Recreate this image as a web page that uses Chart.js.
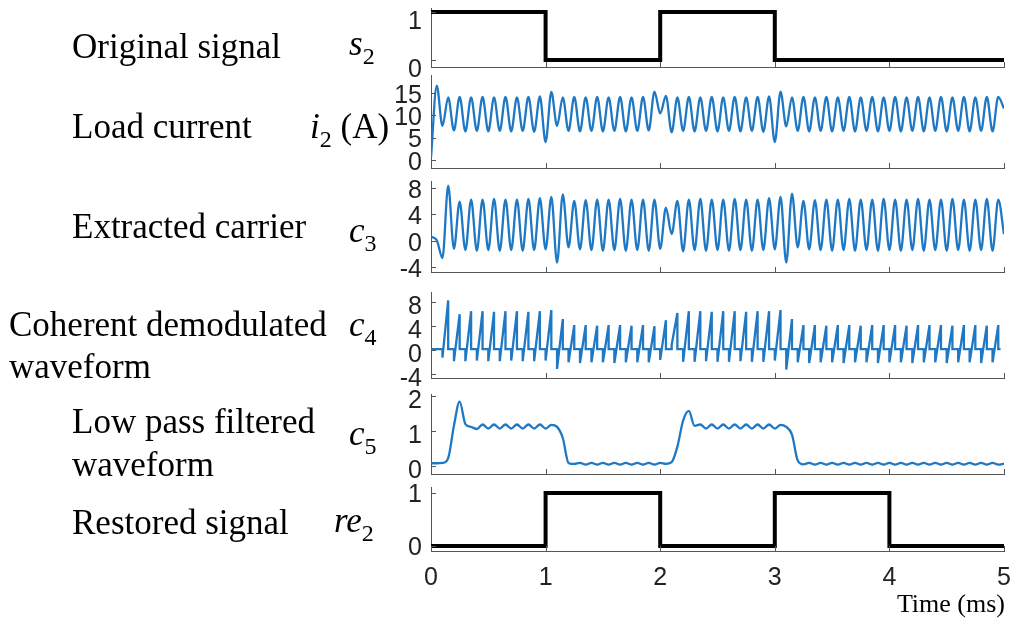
<!DOCTYPE html>
<html><head><meta charset="utf-8">
<script src="https://cdn.jsdelivr.net/npm/chart.js@4.4.1/dist/chart.umd.min.js"></script>
<style>
html,body{margin:0;padding:0;background:#fff;}
#wrap{position:relative;width:1016px;height:622px;overflow:hidden;background:#fff;}
canvas{position:absolute;left:0;}
.lab{position:absolute;font-family:'Liberation Serif','Times New Roman',serif;font-size:35px;line-height:35px;color:#000;white-space:nowrap;}
.v{font-style:italic;}
.sub{font-style:normal;font-size:24px;position:relative;top:9px;}
</style></head><body><div id="wrap">
<canvas id="p1"></canvas><canvas id="p2"></canvas><canvas id="p3"></canvas>
<canvas id="p4"></canvas><canvas id="p5"></canvas><canvas id="p6"></canvas>
<div class="lab" style="left:72px;top:29px">Original signal</div>
<div class="lab" style="left:72px;top:109px">Load current</div>
<div class="lab" style="left:72px;top:209px">Extracted carrier</div>
<div class="lab" style="left:9px;top:307px">Coherent demodulated</div>
<div class="lab" style="left:9px;top:349px">waveform</div>
<div class="lab" style="left:72px;top:404px">Low pass filtered</div>
<div class="lab" style="left:72px;top:447px">waveform</div>
<div class="lab" style="left:72px;top:505px">Restored signal</div>
<div class="lab" style="left:349px;top:26px"><span class="v">s</span><span class="sub">2</span></div>
<div class="lab" style="left:310px;top:109px"><span class="v">i</span><span class="sub">2</span> (A)</div>
<div class="lab" style="left:349px;top:213px"><span class="v">c</span><span class="sub">3</span></div>
<div class="lab" style="left:349px;top:307px"><span class="v">c</span><span class="sub">4</span></div>
<div class="lab" style="left:349px;top:416px"><span class="v">c</span><span class="sub">5</span></div>
<div class="lab" style="left:334px;top:503px"><span class="v">re</span><span class="sub">2</span></div>
<div class="lab" style="right:11px;top:591px;font-size:26px;line-height:26px">Time (ms)</div>
</div>
<script>
// ---------- DATA ----------
const xTicks = [0, 1, 2, 3, 4, 5];

// original signal s2 (step corners)
const s2Times  = [0, 1, 1, 2, 2, 3, 3, 5];
const s2Values = [1, 1, 0, 0, 1, 1, 0, 0];
const s2Ticks  = [0, 1];

// restored signal re2
const re2Times  = [0, 1, 1, 2, 2, 3, 3, 4, 4, 5];
const re2Values = [0, 0, 1, 1, 0, 0, 1, 1, 0, 0];
const re2Ticks  = [0, 1];

// sample times (ms) for the carrier-rate waveforms (peaks / troughs)
const halfTimes = [0,0.05,0.1,0.15,0.2,0.25,0.3,0.35,0.4,0.45,
0.5,0.55,0.6,0.65,0.7,0.75,0.8,0.85,0.9,0.95,
1,1.05,1.1,1.15,1.2,1.25,1.3,1.35,1.4,1.45,
1.5,1.55,1.6,1.65,1.7,1.75,1.8,1.85,1.9,1.95,
2,2.05,2.1,2.15,2.2,2.25,2.3,2.35,2.4,2.45,
2.5,2.55,2.6,2.65,2.7,2.75,2.8,2.85,2.9,2.95,
3,3.05,3.1,3.15,3.2,3.25,3.3,3.35,3.4,3.45,
3.5,3.55,3.6,3.65,3.7,3.75,3.8,3.85,3.9,3.95,
4,4.05,4.1,4.15,4.2,4.25,4.3,4.35,4.4,4.45,
4.5,4.55,4.6,4.65,4.7,4.75,4.8,4.85,4.9,4.95,5];

// load current i2 (A)
const i2Values = [0.5,16.6,7.6,14.0,6.6,14.1,6.4,14.0,6.5,14.1,
6.4,14.0,6.5,14.1,6.4,14.0,6.5,14.1,6.3,14.2,
4.0,15.2,7.6,14.0,6.5,14.1,6.4,14.0,6.5,14.1,
6.4,14.0,6.5,14.1,6.4,14.0,6.5,14.1,6.6,15.3,
10.4,14.3,6.2,14.0,6.5,14.1,6.4,14.0,6.5,14.1,
6.4,14.0,6.5,14.1,6.4,14.0,6.5,14.1,6.3,14.2,
4.0,15.3,7.5,14.0,6.5,14.1,6.4,14.0,6.5,14.1,
6.4,14.0,6.5,14.1,6.4,14.0,6.5,14.1,6.4,14.0,
6.5,14.1,6.4,14.0,6.5,14.1,6.4,14.0,6.5,14.1,
6.4,14.0,6.5,14.1,6.4,14.0,6.5,14.1,6.4,14.1,11.5];
const i2Ticks = [0, 5, 10, 15];

// extracted carrier c3
const c3Values = [0.6,0.1,-2.6,8.3,-1.2,5.9,-1.4,6.2,-1.5,6.2,
-1.4,6.3,-1.5,6.2,-1.4,6.2,-1.5,6.3,-1.4,6.4,
-1.3,6.6,-3.3,7.0,-1.0,6.0,-1.3,6.1,-1.4,6.2,
-1.5,6.2,-1.4,6.3,-1.5,6.2,-1.4,6.2,-1.5,6.2,
-1.2,5.0,1.0,6.0,-1.6,6.2,-1.4,6.3,-1.5,6.2,
-1.4,6.2,-1.5,6.3,-1.4,6.2,-1.5,6.2,-1.4,6.4,
-1.3,6.6,-3.3,7.1,-1.0,6.0,-1.3,6.1,-1.4,6.2,
-1.5,6.2,-1.4,6.3,-1.5,6.2,-1.4,6.2,-1.5,6.3,
-1.4,6.2,-1.5,6.2,-1.4,6.3,-1.5,6.2,-1.4,6.2,
-1.5,6.3,-1.4,6.2,-1.5,6.2,-1.4,6.3,-1.5,6.2,1.0];
const c3Ticks = [-4, 0, 4, 8];

// coherent demodulated waveform c4: window start (dip) and window end (peak)
const c4Base = 0.2;
const c4StartTimes = [0, 0.03];
const c4TroughTimes = [0.1,0.2,0.3,0.4,0.5,0.6,0.7,0.8,0.9,1.0,
1.1,1.2,1.3,1.4,1.5,1.6,1.7,1.8,1.9,2.0,
2.1,2.2,2.3,2.4,2.5,2.6,2.7,2.8,2.9,3.0,
3.1,3.2,3.3,3.4,3.5,3.6,3.7,3.8,3.9,4.0,
4.1,4.2,4.3,4.4,4.5,4.6,4.7,4.8,4.9];
const c4PeakTimes = [0.15,0.25,0.35,0.45,0.55,0.65,0.75,0.85,0.95,1.05,
1.15,1.25,1.35,1.45,1.55,1.65,1.75,1.85,1.95,2.05,
2.15,2.25,2.35,2.45,2.55,2.65,2.75,2.85,2.95,3.05,
3.15,3.25,3.35,3.45,3.55,3.65,3.75,3.85,3.95,4.05,
4.15,4.25,4.35,4.45,4.55,4.65,4.75,4.85,4.95];
const c4Dips = [-1.2,-1.8,-1.8,-1.7,-1.8,-1.8,-1.7,-1.8,-1.8,-1.7,
-3.1,-2.0,-2.1,-2.0,-2.0,-2.1,-2.0,-2.0,-2.0,-1.6,
0.9,-1.9,-1.9,-1.8,-1.9,-1.9,-1.8,-1.9,-1.9,-1.7,
-3.2,-2.0,-2.1,-2.0,-2.0,-2.1,-2.0,-2.0,-2.1,-2.0,
-2.0,-2.1,-2.0,-2.0,-2.1,-2.0,-2.0,-2.1,-2.0];
const c4Peaks = [8.3,6.0,6.5,6.5,6.4,6.5,6.5,6.4,6.5,6.7,
5.2,4.2,4.2,4.1,4.2,4.2,4.1,4.2,4.0,5.0,
6.2,6.5,6.5,6.4,6.5,6.5,6.4,6.5,6.5,6.7,
5.2,4.2,4.2,4.1,4.2,4.2,4.1,4.2,4.2,4.2,
4.1,4.2,4.2,4.2,4.1,4.2,4.2,4.1,4.2];
const c4EndTime = 4.97;
const c4Ticks = [-4, 0, 4, 8];

// low pass filtered waveform c5
const c5Values = [0.07,0.07,0.08,0.22,1.15,1.85,1.2,1.12,1.06,1.19,
1.07,1.19,1.07,1.19,1.07,1.19,1.07,1.19,1.07,1.19,
1.07,1.18,1.12,0.8,0.08,0.05,0.08,0.03,0.08,0.03,
0.08,0.03,0.08,0.03,0.08,0.03,0.08,0.03,0.08,0.03,
0.08,0.05,0.1,0.55,1.3,1.58,1.15,1.19,1.07,1.19,
1.07,1.19,1.07,1.19,1.07,1.19,1.07,1.19,1.07,1.19,
1.07,1.18,1.12,0.9,0.15,0.04,0.08,0.03,0.08,0.03,
0.08,0.03,0.08,0.03,0.08,0.03,0.08,0.03,0.08,0.03,
0.08,0.03,0.08,0.03,0.08,0.03,0.08,0.03,0.08,0.03,
0.08,0.03,0.08,0.03,0.08,0.03,0.08,0.03,0.08,0.03,0.06];
const c5Ticks = [0, 1, 2];

// ---------- BUILD ----------
const BLUE = '#1f78c4';
const pts = (xs, ys) => xs.map((x, i) => ({x: x, y: ys[i]}));

const c4Points = [{x: c4StartTimes[0], y: c4Base}, {x: c4StartTimes[1], y: c4Base}];
c4TroughTimes.forEach((t, k) => {
  c4Points.push({x: t, y: c4Base});
  c4Points.push({x: t, y: c4Dips[k]});
  c4Points.push({x: c4PeakTimes[k], y: c4Peaks[k]});
  c4Points.push({x: c4PeakTimes[k], y: c4Base});
});
c4Points.push({x: c4EndTime, y: c4Base});

const innerTicks = {
  id: 'innerTicks',
  afterDraw(chart) {
    const ctx = chart.ctx, a = chart.chartArea, xs = chart.scales.x, ys = chart.scales.y;
    ctx.save();
    ctx.strokeStyle = '#555'; ctx.lineWidth = 1;
    ctx.beginPath();
    xs.ticks.forEach(t => { const px = Math.round(xs.getPixelForValue(t.value)) + 0.5; ctx.moveTo(px, a.bottom); ctx.lineTo(px, a.bottom - 5); });
    ys.ticks.forEach(t => { const py = Math.round(ys.getPixelForValue(t.value)) + 0.5; ctx.moveTo(a.left, py); ctx.lineTo(a.left + 5, py); });
    ctx.stroke();
    ctx.restore();
  }
};

const PANELS = [
  {id:'p1', top:8,   bottom:67,  min:-0.146, max:1.083, ticks:s2Ticks, off:10, data:pts(s2Times, s2Values), color:'#000', width:4, mode:'line'},
  {id:'p2', top:75,  bottom:168, min:-1.8,   max:19.0,  ticks:i2Ticks, off:3, data:pts(halfTimes, i2Values), color:BLUE, width:2.3, mode:'smooth'},
  {id:'p3', top:181, bottom:272, min:-4.7,   max:9.0,   ticks:c3Ticks, off:3, data:pts(halfTimes, c3Values), color:BLUE, width:2.3, mode:'smooth'},
  {id:'p4', top:292, bottom:378, min:-4.6,   max:9.7,   ticks:c4Ticks, off:5, data:c4Points, color:BLUE, width:2.3, mode:'line'},
  {id:'p5', top:394, bottom:474, min:-0.24,  max:2.07,  ticks:c5Ticks, off:5, data:pts(halfTimes, c5Values), color:BLUE, width:2.3, mode:'smooth'},
  {id:'p6', top:487, bottom:551, min:-0.094, max:1.113, ticks:re2Ticks, off:2, data:pts(re2Times, re2Values), color:'#000', width:4, mode:'line', last:true}
];

const TICKFONT = {family: "'Liberation Sans', Arial, sans-serif", size: 25};
const PADT = 20;

PANELS.forEach(p => {
  const cv = document.getElementById(p.id);
  const ctop = p.top - PADT;
  const h = p.last ? (622 - ctop) : (p.bottom - p.top + 2 * PADT);
  cv.width = 1016; cv.height = h;
  cv.style.top = ctop + 'px';
  cv.style.width = '1016px'; cv.style.height = h + 'px';
  const xAxisH = p.last ? (622 - p.bottom) : 0;
  new Chart(cv, {
    type: 'line',
    data: { datasets: [{
      data: p.data,
      borderColor: p.color, borderWidth: p.width,
      pointRadius: 0, fill: false,
      cubicInterpolationMode: p.mode === 'smooth' ? 'monotone' : 'default',
      tension: 0, borderJoinStyle: 'miter', borderCapStyle: 'butt'
    }]},
    options: {
      responsive: false, animation: false, devicePixelRatio: 1,
      layout: { padding: { left: 371, right: 12, top: PADT, bottom: p.last ? 0 : PADT } },
      plugins: { legend: {display: false}, tooltip: {enabled: false} },
      scales: {
        x: {
          type: 'linear', min: 0, max: 5,
          afterBuildTicks: s => { s.ticks = xTicks.map(v => ({value: v})); },
          afterFit: s => { s.height = xAxisH; s.paddingLeft = 0; s.paddingRight = 0; },
          grid: { display: false, drawTicks: false },
          border: { display: true, color: '#555', width: 1 },
          ticks: { display: !!p.last, font: TICKFONT, color: '#222', padding: 12, maxRotation: 0, autoSkip: false }
        },
        y: {
          type: 'linear', min: p.min, max: p.max,
          afterBuildTicks: s => { s.ticks = p.ticks.map(v => ({value: v})); },
          afterFit: s => { s.width = 60; s.paddingTop = 0; s.paddingBottom = 0; },
          grid: { display: false, drawTicks: false },
          border: { display: true, color: '#555', width: 1 },
          ticks: { font: TICKFONT, color: '#222', padding: 9, labelOffset: p.off, autoSkip: false }
        }
      }
    },
    plugins: [innerTicks]
  });
});
</script>
</body></html>
